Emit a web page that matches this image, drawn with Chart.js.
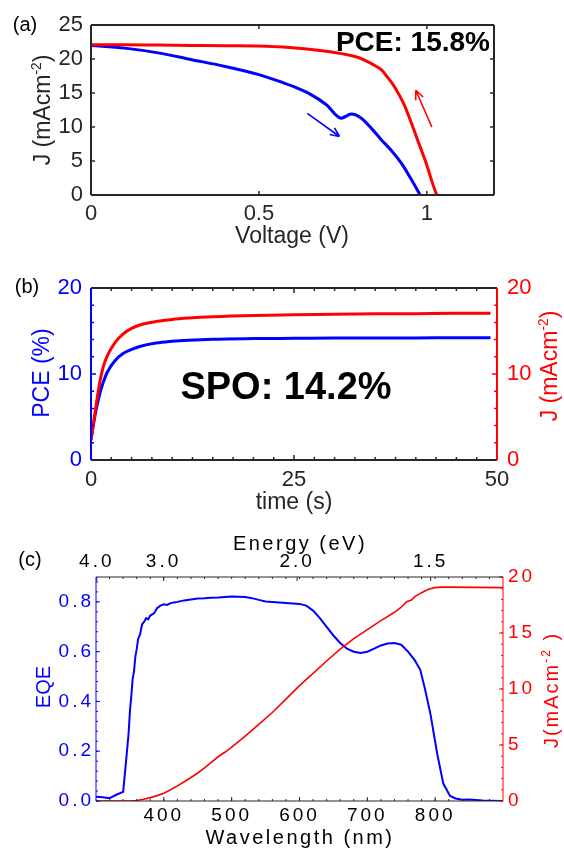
<!DOCTYPE html>
<html>
<head>
<meta charset="utf-8">
<script src="https://cdn.jsdelivr.net/npm/chart.js@4.4.0/dist/chart.umd.min.js"></script>
<style>
body { margin: 0; width: 564px; height: 848px; background: #fff; position: relative; overflow: hidden;
       font-family: "Liberation Sans", Arial, Helvetica, sans-serif; }
canvas { position: absolute; left: 0; }
.t { position: absolute; white-space: nowrap; line-height: 1; transform: translate(-50%, -50%); }
.rot { transform: translate(-50%, -50%) rotate(-90deg); }
.t sup { font-size: 0.6em; vertical-align: 0; position: relative; top: -0.65em; line-height: 0; }
.wide { letter-spacing: 2.5px; }
</style>
</head>
<body>
<canvas id="jv" width="564" height="262" style="top:0"></canvas>
<canvas id="spo" width="564" height="258" style="top:262px"></canvas>
<canvas id="eqe" width="564" height="328" style="top:520px"></canvas>

<div class="t" style="left:25px;top:24px;font-size:20px;color:#000">(a)</div>
<div class="t" style="left:27px;top:286px;font-size:20px;color:#000">(b)</div>
<div class="t" style="left:30px;top:559px;font-size:20px;color:#000">(c)</div>

<div class="t" style="left:490px;top:42px;font-size:28px;font-weight:bold;color:#000;transform:translate(-100%,-50%)">PCE: 15.8%</div>
<div class="t" style="left:292px;top:235px;font-size:23px;color:#262626">Voltage (V)</div>
<div class="t rot" style="left:42px;top:110px;font-size:23px;color:#262626">J (mAcm<sup>-2</sup>)</div>

<div class="t" style="left:286px;top:386px;font-size:38px;font-weight:bold;color:#000">SPO: 14.2%</div>
<div class="t" style="left:294px;top:501px;font-size:23px;color:#262626">time (s)</div>
<div class="t rot" style="left:41px;top:373px;font-size:23px;color:#0000ff">PCE (%)</div>
<div class="t rot" style="left:549px;top:366px;font-size:23px;color:#ff0000">J (mAcm<sup>-2</sup>)</div>

<div class="t wide" style="left:300px;top:543px;font-size:20px;color:#000">Energy (eV)</div>
<div class="t wide" style="left:300px;top:837px;font-size:20px;color:#000">Wavelength (nm)</div>
<div class="t rot" style="left:43px;top:687px;font-size:20px;color:#0000ff">EQE</div>
<div class="t rot" style="left:551px;top:690px;font-size:20px;color:#ff0000;letter-spacing:2px">J(mAcm<sup>-2</sup> )</div>

<script>
// (a) J-V scans
const revV = [0, 0.1, 0.2, 0.3, 0.4, 0.5, 0.6, 0.65, 0.7, 0.75, 0.8, 0.85, 0.865, 0.88, 0.9, 0.92, 0.935, 0.95, 0.965, 0.98, 0.995, 1.005, 1.015, 1.025, 1.03];
const revJ = [22.1, 22.1, 22.05, 22.0, 21.95, 21.9, 21.65, 21.45, 21.15, 20.75, 20.15, 18.9, 18.4, 17.5, 16.2, 14.5, 13.0, 11.1, 9.1, 7.1, 5.1, 3.6, 2.0, 0.6, 0];
const fwdV = [0, 0.1, 0.2, 0.3, 0.4, 0.5, 0.55, 0.6, 0.65, 0.7, 0.745, 0.775, 0.805, 0.835, 0.865, 0.895, 0.925, 0.95, 0.98];
const fwdJ = [22.0, 21.6, 20.9, 19.9, 18.9, 17.7, 16.9, 16.0, 14.9, 13.3, 11.3, 11.9, 11.3, 9.8, 8.1, 6.5, 4.6, 2.6, 0];
const fwdArrow = [[0.644, 12.0], [0.74, 8.6]];
const revArrow = [[1.015, 10.0], [0.967, 15.4]];
const jvVTicks = [0, 0.5, 1];
const jvJTicks = [0, 5, 10, 15, 20, 25];

// (b) stabilised output
const spoT = [0, 0.5, 1, 1.5, 2, 3, 4, 5, 6, 8, 10, 12, 15, 20, 25, 30, 35, 40, 45, 49.2];
const spoPCE = [2.4, 5.2, 7.4, 9.0, 10.2, 11.6, 12.4, 12.85, 13.2, 13.6, 13.8, 13.93, 14.05, 14.12, 14.15, 14.18, 14.2, 14.2, 14.22, 14.22];
const spoJ = [2.3, 5.5, 8.6, 10.8, 12.1, 13.7, 14.7, 15.3, 15.7, 16.1, 16.35, 16.5, 16.65, 16.8, 16.88, 16.95, 17.0, 17.02, 17.05, 17.05];
const spoTTicks = [0, 25, 50];
const spoYTicks = [0, 10, 20];

// (c) EQE and integrated current
const eqeNm = [300, 310, 320, 330, 340, 344, 348, 350, 352, 354, 356, 358, 360, 362, 365, 368, 371, 374, 377, 380, 383, 386, 390, 395, 400, 405, 410, 415, 420, 430, 440, 450, 460, 470, 480, 490, 500, 510, 520, 530, 540, 550, 560, 570, 580, 590, 600, 610, 620, 630, 640, 650, 660, 670, 680, 690, 700, 710, 720, 730, 740, 750, 760, 770, 778, 785, 793, 803, 812, 822, 830, 840, 850, 860, 870, 880, 900];
const eqeVal = [0.017, 0.015, 0.011, 0.025, 0.037, 0.15, 0.27, 0.36, 0.42, 0.49, 0.52, 0.58, 0.61, 0.65, 0.67, 0.71, 0.72, 0.735, 0.73, 0.745, 0.75, 0.755, 0.775, 0.785, 0.79, 0.788, 0.795, 0.798, 0.80, 0.806, 0.81, 0.814, 0.815, 0.817, 0.818, 0.82, 0.822, 0.821, 0.82, 0.815, 0.808, 0.802, 0.80, 0.798, 0.796, 0.794, 0.792, 0.785, 0.765, 0.735, 0.70, 0.665, 0.635, 0.612, 0.60, 0.595, 0.60, 0.612, 0.625, 0.633, 0.635, 0.628, 0.60, 0.565, 0.527, 0.45, 0.35, 0.19, 0.07, 0.02, 0.01, 0.005, 0.006, 0.004, 0.002, 0.001, 0];
const jscNm = [300, 340, 350, 360, 370, 380, 390, 400, 410, 420, 430, 440, 450, 460, 470, 480, 490, 500, 520, 540, 560, 580, 600, 620, 640, 660, 680, 700, 720, 740, 750, 758, 765, 770, 780, 790, 800, 810, 820, 900];
const jscVal = [0, 0, 0, 0.05, 0.15, 0.3, 0.48, 0.7, 1.0, 1.35, 1.72, 2.1, 2.5, 2.95, 3.45, 3.95, 4.35, 4.8, 5.8, 6.85, 7.9, 9.1, 10.3, 11.4, 12.5, 13.55, 14.5, 15.3, 16.1, 16.85, 17.3, 17.8, 17.95, 18.25, 18.6, 18.9, 19.05, 19.1, 19.1, 19.05];
const nmTicks = [400, 500, 600, 700, 800];
const eVTicks = [4.0, 3.0, 2.0, 1.5];
const eqeTicks = [0, 0.2, 0.4, 0.6, 0.8];
const jscTicks = [0, 5, 10, 15, 20];

const FONT = '"Liberation Sans", Arial, Helvetica, sans-serif';
const INK = '#262626';
const BLUE = '#0000ff';
const RED = '#ff0000';

function steps(from, to, step) {
  const out = [];
  for (let v = from; v <= to + 1e-9; v += step) out.push(+v.toFixed(4));
  return out;
}
function xy(xs, ys) { return xs.map((v, i) => ({ x: v, y: ys[i] })); }
function fixedTicks(values) { return s => { s.ticks = values.map(v => ({ value: v })); }; }

// plain axis with hand-picked ticks and a fixed box size
function axis(extra, ticks, size, color, font, pad) {
  return Object.assign({
    type: 'linear',
    afterBuildTicks: fixedTicks(ticks),
    afterFit: s => { if (s.isHorizontal()) s.height = size; else s.width = size; },
    grid: { display: false, drawTicks: false },
    border: { display: false },
    ticks: { color: color, font: { family: FONT, size: font }, padding: pad, autoSkip: false, maxRotation: 0,
             callback: v => String(v) }
  }, extra);
}

// box edges and inward tick marks
const frame = {
  id: 'frame',
  afterDatasetsDraw(chart, args, opts) {
    const ctx = chart.ctx, a = chart.chartArea;
    ctx.save();
    for (const m of opts.marks || []) {
      const s = chart.scales[m.scale];
      ctx.strokeStyle = m.color;
      ctx.lineWidth = m.width || 1;
      ctx.beginPath();
      const groups = [[m.major || [], m.len], [m.minor || [], m.minorLen]];
      for (const [vals, len] of groups) {
        for (const v of vals) {
          const p = s.getPixelForValue(v);
          for (const side of m.sides) {
            if (side === 'bottom') { ctx.moveTo(p, a.bottom); ctx.lineTo(p, a.bottom - len); }
            if (side === 'top') { ctx.moveTo(p, a.top); ctx.lineTo(p, a.top + len); }
            if (side === 'left') { ctx.moveTo(a.left, p); ctx.lineTo(a.left + len, p); }
            if (side === 'right') { ctx.moveTo(a.right, p); ctx.lineTo(a.right - len, p); }
          }
        }
      }
      ctx.stroke();
    }
    const e = opts.edges || {};
    ctx.lineWidth = opts.edgeWidth || 1;
    const seg = (col, x0, y0, x1, y1) => {
      if (!col) return;
      ctx.strokeStyle = col;
      ctx.beginPath(); ctx.moveTo(x0, y0); ctx.lineTo(x1, y1); ctx.stroke();
    };
    seg(e.top, a.left, a.top, a.right, a.top);
    seg(e.bottom, a.left, a.bottom, a.right, a.bottom);
    seg(e.left, a.left, a.top, a.left, a.bottom);
    seg(e.right, a.right, a.top, a.right, a.bottom);
    ctx.restore();
  }
};

// scan direction arrows
const arrows = {
  id: 'arrows',
  afterDatasetsDraw(chart, args, opts) {
    const ctx = chart.ctx, sx = chart.scales.x, sy = chart.scales.y;
    ctx.save();
    for (const a of opts.items || []) {
      const x0 = sx.getPixelForValue(a.from[0]), y0 = sy.getPixelForValue(a.from[1]);
      const x1 = sx.getPixelForValue(a.to[0]), y1 = sy.getPixelForValue(a.to[1]);
      const ang = Math.atan2(y1 - y0, x1 - x0);
      ctx.strokeStyle = a.color;
      ctx.lineWidth = 1.6;
      ctx.beginPath();
      ctx.moveTo(x0, y0); ctx.lineTo(x1, y1);
      for (const d of [-0.42, 0.42]) {
        ctx.moveTo(x1, y1);
        ctx.lineTo(x1 - 10 * Math.cos(ang + d), y1 - 10 * Math.sin(ang + d));
      }
      ctx.stroke();
    }
    ctx.restore();
  }
};

// wider tracking for the EQE panel labels
const tracking = {
  id: 'tracking',
  beforeDraw(chart, args, opts) { chart.ctx.letterSpacing = opts.spacing || '0px'; },
  afterDraw(chart) { chart.ctx.letterSpacing = '0px'; }
};

const common = {
  responsive: false,
  animation: false,
  devicePixelRatio: 1,
  events: []
};

new Chart(document.getElementById('jv'), {
  type: 'line',
  data: {
    datasets: [
      { data: xy(revV, revJ), borderColor: RED, borderWidth: 3, pointRadius: 0, cubicInterpolationMode: 'monotone' },
      { data: xy(fwdV, fwdJ), borderColor: BLUE, borderWidth: 3, pointRadius: 0, cubicInterpolationMode: 'monotone' }
    ]
  },
  options: Object.assign({}, common, {
    layout: { padding: { top: 25, right: 70 } },
    plugins: {
      legend: { display: false },
      tooltip: { enabled: false },
      frame: {
        marks: [
          { scale: 'x', major: jvVTicks, len: 4, sides: ['bottom', 'top'], color: INK, width: 1.5 },
          { scale: 'y', major: jvJTicks, len: 4, sides: ['left', 'right'], color: INK, width: 1.5 }
        ],
        edges: { top: INK, bottom: INK, left: INK, right: INK },
        edgeWidth: 2
      },
      arrows: {
        items: [
          { from: fwdArrow[0], to: fwdArrow[1], color: BLUE },
          { from: revArrow[0], to: revArrow[1], color: RED }
        ]
      }
    },
    scales: {
      x: axis({ min: 0, max: 1.2, position: 'bottom' }, jvVTicks, 67, INK, 22, 6),
      y: axis({ min: 0, max: 25, position: 'left' }, jvJTicks, 91, INK, 22, 8)
    }
  }),
  plugins: [frame, arrows]
});

new Chart(document.getElementById('spo'), {
  type: 'line',
  data: {
    datasets: [
      { data: xy(spoT, spoJ), yAxisID: 'y2', borderColor: RED, borderWidth: 3, pointRadius: 0, cubicInterpolationMode: 'monotone' },
      { data: xy(spoT, spoPCE), yAxisID: 'y', borderColor: BLUE, borderWidth: 3, pointRadius: 0, cubicInterpolationMode: 'monotone' }
    ]
  },
  options: Object.assign({}, common, {
    layout: { padding: { top: 26 } },
    plugins: {
      legend: { display: false },
      tooltip: { enabled: false },
      frame: {
        marks: [
          { scale: 'x', major: spoTTicks, len: 5, minor: steps(0, 50, 2.5), minorLen: 3, sides: ['bottom', 'top'], color: INK, width: 1.5 },
          { scale: 'y', major: spoYTicks, len: 5, minor: steps(0, 20, 2), minorLen: 3, sides: ['left'], color: BLUE, width: 1.5 },
          { scale: 'y2', major: spoYTicks, len: 5, minor: steps(0, 20, 2), minorLen: 3, sides: ['right'], color: RED, width: 1.5 }
        ],
        edges: { top: INK, bottom: INK, left: BLUE, right: RED },
        edgeWidth: 2
      }
    },
    scales: {
      x: axis({ min: 0, max: 50, position: 'bottom' }, spoTTicks, 60, INK, 22, 7),
      y: axis({ min: 0, max: 20, position: 'left' }, spoYTicks, 91, BLUE, 22, 9),
      y2: axis({ min: 0, max: 20, position: 'right' }, spoYTicks, 67, RED, 22, 10)
    }
  }),
  plugins: [frame]
});

new Chart(document.getElementById('eqe'), {
  type: 'line',
  data: {
    datasets: [
      { data: xy(jscNm, jscVal), xAxisID: 'x', yAxisID: 'y2', borderColor: RED, borderWidth: 1.6, pointRadius: 0, tension: 0 },
      { data: xy(eqeNm, eqeVal), xAxisID: 'x', yAxisID: 'y', borderColor: BLUE, borderWidth: 2, pointRadius: 0, tension: 0 }
    ]
  },
  options: Object.assign({}, common, {
    plugins: {
      legend: { display: false },
      tooltip: { enabled: false },
      tracking: { spacing: '3px' },
      frame: {
        marks: [
          { scale: 'x', major: nmTicks, len: 4, minor: steps(320, 880, 20), minorLen: 2, sides: ['bottom'], color: INK, width: 1 },
          { scale: 'x', minor: steps(320, 880, 20), minorLen: 2, sides: ['top'], color: INK, width: 1 },
          { scale: 'x2', major: eVTicks.map(e => 1 / e), len: 4, sides: ['top'], color: INK, width: 1 },
          { scale: 'y', major: eqeTicks, len: 4, minor: steps(0, 0.88, 0.04), minorLen: 2, sides: ['left'], color: BLUE, width: 1 },
          { scale: 'y2', major: jscTicks, len: 4, minor: steps(0, 20, 1), minorLen: 2, sides: ['right'], color: RED, width: 1 }
        ],
        edges: { top: INK, bottom: INK, left: BLUE, right: RED },
        edgeWidth: 1
      }
    },
    scales: {
      x: axis({ min: 300, max: 900, position: 'bottom' }, nmTicks, 47, '#000', 19, 3),
      x2: axis({ min: 0.249, max: 0.757, position: 'top',
                 ticks: { color: '#000', font: { family: FONT, size: 19 }, padding: 4, autoSkip: false, maxRotation: 0,
                          callback: (v, i) => eVTicks[i].toFixed(1) } },
               eVTicks.map(e => 1 / e), 57, '#000', 19, 4),
      y: axis({ min: 0, max: 0.9, position: 'left',
                ticks: { color: BLUE, font: { family: FONT, size: 19 }, padding: 2, autoSkip: false,
                         callback: v => v.toFixed(1) } },
              eqeTicks, 96, BLUE, 19, 2),
      y2: axis({ min: 0, max: 20, position: 'right' }, jscTicks, 61, RED, 19, 5)
    }
  }),
  plugins: [frame, tracking]
});
</script>
</body>
</html>
